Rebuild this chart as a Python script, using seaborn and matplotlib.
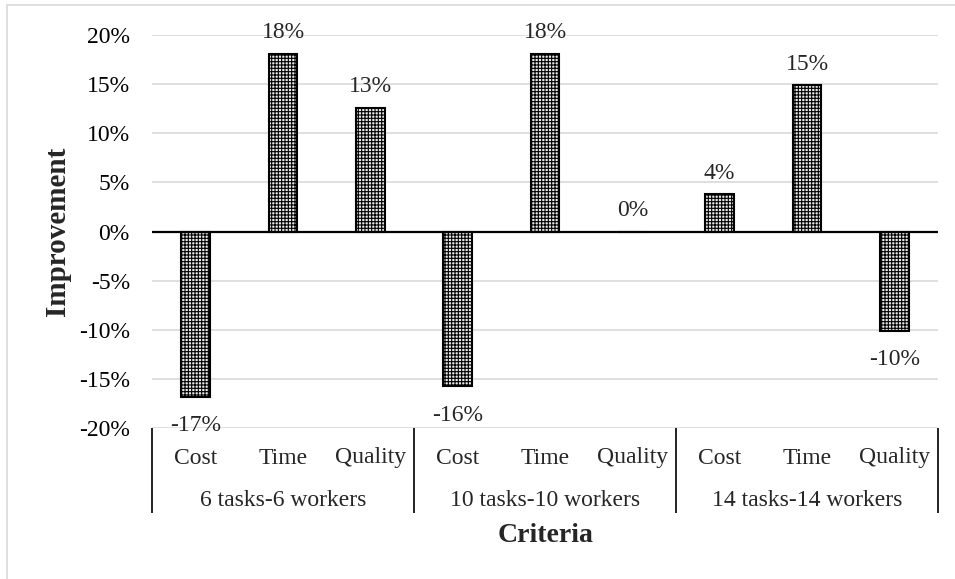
import matplotlib
matplotlib.use("Agg")
import matplotlib.pyplot as plt
from matplotlib.patches import Rectangle
from matplotlib.ticker import FuncFormatter, MultipleLocator
import seaborn as sns
import pandas as pd

# Scenario groups and criteria
groups = ["6 tasks-6 workers", "10 tasks-10 workers", "14 tasks-14 workers"]
criteria = ["Cost", "Time", "Quality"]

# Improvement per criterion, one list per scenario
improve_6 = [-0.168, 0.181, 0.126]
improve_10 = [-0.157, 0.181, 0.0]
improve_14 = [0.038, 0.149, -0.101]

rows = []
for g, vals in zip(groups, [improve_6, improve_10, improve_14]):
    for c, v in zip(criteria, vals):
        rows.append({"key": f"{g}|{c}", "group": g, "criterion": c, "value": v})
df = pd.DataFrame(rows)
order = list(df["key"])

sns.set_theme(style="white")
plt.rcParams["font.family"] = ["Liberation Serif", "DejaVu Serif"]
plt.rcParams["hatch.color"] = "#1a1a1a"
plt.rcParams["hatch.linewidth"] = 0.8

W, H = 955, 579
fig = plt.figure(figsize=(W / 100, H / 100), dpi=100)
ax = fig.add_axes([152 / W, 1 - 428 / H, (938 - 152) / W, (428 - 35) / H])

sns.barplot(data=df, x="key", y="value", order=order, ax=ax, width=0.33,
            color="#e8e8e8", edgecolor="black", linewidth=1.5, hatch="+++++",
            saturation=1, errorbar=None, zorder=3)

ax.set_ylim(-0.2, 0.2)
ax.set_xlim(-0.5, len(order) - 0.5)
ax.yaxis.set_major_locator(MultipleLocator(0.05))
ax.yaxis.set_major_formatter(FuncFormatter(lambda v, _: f"{v:.0%}"))
ax.tick_params(axis="y", labelsize=17, length=0, pad=16, colors="black")
ax.set_xticks([])
ax.set_xlabel("")
ax.set_ylabel("")
for s in ax.spines.values():
    s.set_visible(False)
ax.grid(axis="y", color="#d9d9d9", linewidth=1.2, zorder=0)
ax.set_axisbelow(True)
ax.axhline(0, color="black", linewidth=1.6, zorder=4)

# Value labels
for i, v in enumerate(df["value"]):
    if v >= 0:
        ax.annotate(f"{v:.0%}", (i, v), xytext=(0, 7.5), textcoords="offset points",
                    ha="center", va="bottom", fontsize=17)
    else:
        ax.annotate(f"{v:.0%}", (i, v), xytext=(0, -13.5), textcoords="offset points",
                    ha="center", va="top", fontsize=17)

# Two-level category axis below the plot
trans = ax.get_xaxis_transform()
def ypix(py):
    return (1 - py / H - ax.get_position().y0) / ax.get_position().height

for i, c in enumerate(df["criterion"]):
    ax.text(i, ypix(458), c, transform=trans, ha="center", va="center",
            fontsize=17, clip_on=False)
for gi, g in enumerate(groups):
    ax.text(gi * 3 + 1, ypix(501), g, transform=trans, ha="center", va="center",
            fontsize=17, clip_on=False)
for b in range(len(groups) + 1):
    ax.plot([b * 3 - 0.5, b * 3 - 0.5], [0, ypix(513)], transform=trans,
            color="#222222", linewidth=1.4, clip_on=False, solid_capstyle="butt")

fig.text(546 / W, 1 - 536 / H, "Criteria", ha="center", va="center",
         fontsize=20, fontweight="bold")
fig.text(57 / W, 1 - 231 / H, "Improvement", ha="center", va="center",
         rotation=90, fontsize=21, fontweight="bold")

# Chart frame
fig.add_artist(Rectangle((7 / W, -0.1), 1.2, 1.1 - 5 / H, transform=fig.transFigure,
                         fill=False, edgecolor="#d9d9d9", linewidth=1.2))

fig.savefig("out.png", dpi=100)
